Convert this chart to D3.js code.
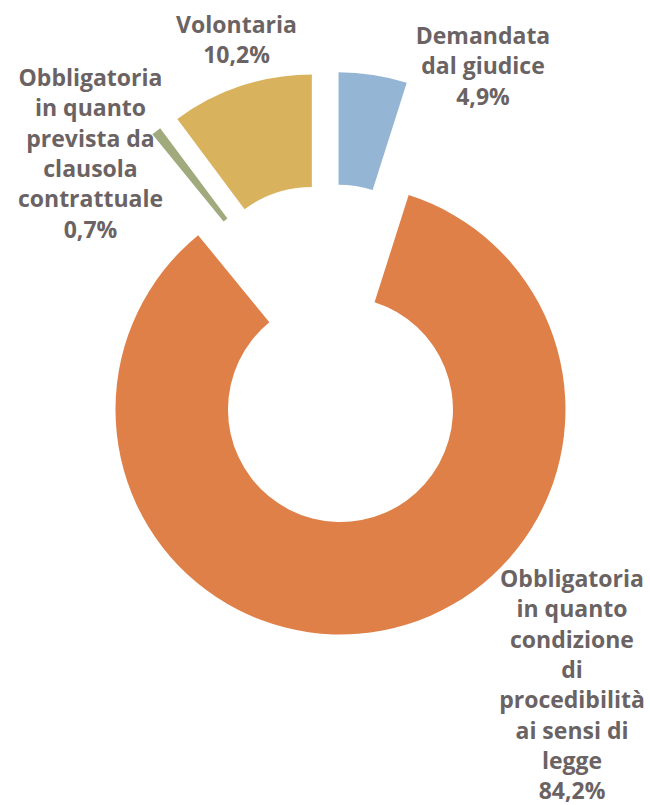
<!DOCTYPE html>
<html>
<head>
<meta charset="utf-8">
<script src="https://cdn.jsdelivr.net/npm/d3@7"></script>
<style>
  html, body { margin: 0; padding: 0; background: #ffffff; }
  svg { display: block; }
  .lbl { font-family: "Open Sans", Lato, sans-serif; font-weight: 700; fill: #6b6363; }
</style>
</head>
<body>
<div id="chart"></div>
<script>
// ---- data ----
const categories = [
  "Demandata dal giudice",
  "Obbligatoria in quanto condizione di procedibilità ai sensi di legge",
  "Obbligatoria in quanto prevista da clausola contrattuale",
  "Volontaria"
];
const values = [4.9, 84.2, 0.7, 10.2];
const valueLabels = ["4,9%", "84,2%", "0,7%", "10,2%"];
const labelLines = [
  ["Demandata", "dal giudice"],
  ["Obbligatoria", "in quanto", "condizione", "di", "procedibilità", "ai sensi di", "legge"],
  ["Obbligatoria", "in quanto", "prevista da", "clausola", "contrattuale"],
  ["Volontaria"]
];
const colors = ["#94b5d3", "#de8048", "#a0aa7c", "#d9b25e"];

// ---- layout ----
const W = 650, H = 805;
const cx = 329.8, cy = 353.5;
const R = 225, r = 112.5, explode = 57;
const fontSize = 23, lineH = 30.3;
const refWordWidth = 140; // width of "Obbligatoria" in the reference
// label block anchors: [center x, first baseline y]
const labelPos = [[483, 44], [572, 587], [90.5, 86], [236.5, 33]];

const svg = d3.select("#chart").append("svg").attr("width", W).attr("height", H);

const pie = d3.pie().sort(null).value(d => d)
  .startAngle(0).endAngle(2 * Math.PI);
const arcs = pie(values);
const arc = d3.arc().innerRadius(r).outerRadius(R);

const g = svg.append("g").attr("transform", `translate(${cx},${cy})`);
g.selectAll("path").data(arcs).join("path")
  .attr("d", arc)
  .attr("fill", (d, i) => colors[i])
  .attr("transform", d => {
    const a = (d.startAngle + d.endAngle) / 2;
    return `translate(${explode * Math.sin(a)},${-explode * Math.cos(a)})`;
  });

// measure to pick letter spacing
const probe = svg.append("text").attr("class", "lbl").attr("font-size", fontSize).text("Obbligatoria");
const w = probe.node().getComputedTextLength();
probe.remove();
const ls = Math.max(0, (refWordWidth - w) / 12);

const labels = svg.append("g");
arcs.forEach((d, i) => {
  const lines = labelLines[i].concat([valueLabels[i]]);
  const t = labels.append("text").attr("class", "lbl")
    .attr("text-anchor", "middle")
    .attr("font-size", fontSize)
    .style("letter-spacing", ls + "px");
  lines.forEach((ln, j) => {
    t.append("tspan").attr("x", labelPos[i][0] + ls / 2).attr("y", labelPos[i][1] + j * lineH).text(ln);
  });
});
</script>
</body>
</html>
